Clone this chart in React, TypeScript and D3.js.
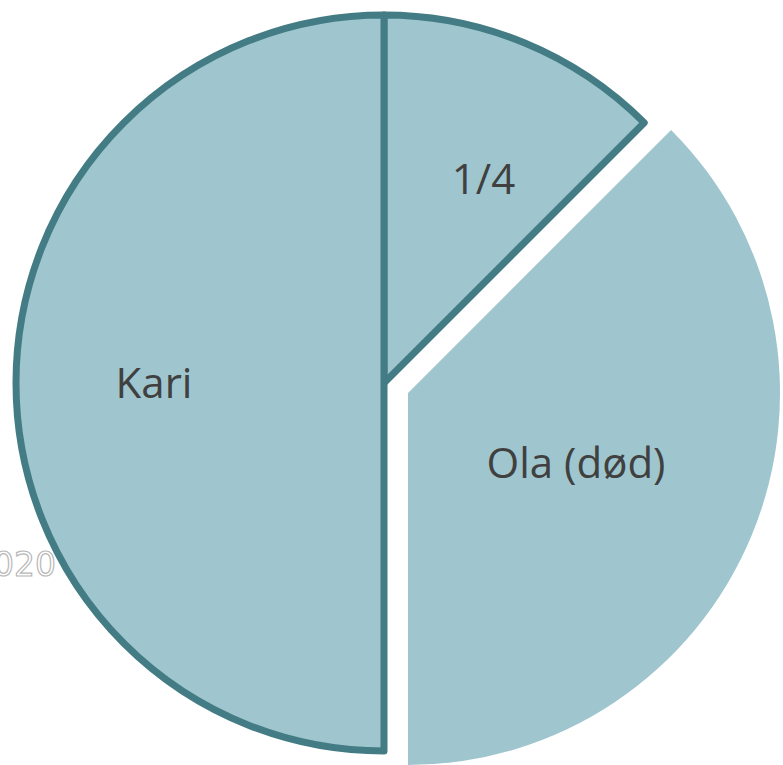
import { useEffect, useRef } from 'react'
import * as d3 from 'd3'

// pie slices, clockwise from 12 o'clock
const labels = ['1/4', 'Ola (død)', 'Kari']
const shares = [12.5, 37.5, 50]
const exploded = [false, true, false]
const watermark = '2020'

const width = 783
const height = 765

function PieChart() {
  const ref = useRef<SVGSVGElement>(null)

  useEffect(() => {
    const svg = d3.select(ref.current)
    svg.selectAll('*').remove()

    const cx = 384,
      cy = 383,
      r = 368,
      pull = 26

    // faint outlined watermark, mostly cut off at the left edge
    svg
      .append('text')
      .attr('x', 56)
      .attr('y', 576)
      .attr('text-anchor', 'end')
      .attr('font-family', 'DejaVu Sans')
      .attr('font-size', 33)
      .attr('fill', '#ffffff')
      .attr('stroke', '#b8b8b8')
      .attr('stroke-width', 1.2)
      .text(watermark)

    const data = labels.map((label, i) => ({ label, value: shares[i], exploded: exploded[i] }))

    const pie = d3
      .pie<{ label: string; value: number; exploded: boolean }>()
      .sort(null)
      .value((d) => d.value)

    const arc = d3.arc<d3.PieArcDatum<any>>().innerRadius(0)
    // label distance as a share of the radius, plus a small sideways nudge
    const labelFactor = [0.6, 0.5, 0.625]
    const labelNudge = [15, -2, 0]

    const g = svg.append('g').attr('transform', 'translate(' + cx + ',' + cy + ')')

    const slices = g
      .selectAll('g.slice')
      .data(pie(data))
      .enter()
      .append('g')
      .attr('class', 'slice')
      .attr('transform', (d) => {
        if (!d.data.exploded) return null
        const mid = (d.startAngle + d.endAngle) / 2
        return 'translate(' + pull * Math.sin(mid) + ',' + -pull * Math.cos(mid) + ')'
      })

    slices
      .append('path')
      .attr('d', (d) => arc.outerRadius(d.data.exploded ? r + 4 : r)(d))
      .attr('fill', '#9fc6ce')
      .attr('stroke', (d) => (d.data.exploded ? 'none' : '#437c84'))
      .attr('stroke-width', 7)
      .attr('stroke-linejoin', 'round')

    slices
      .append('text')
      .attr('transform', (d, i) => {
        const lr = r * labelFactor[i]
        const mid = (d.startAngle + d.endAngle) / 2
        return 'translate(' + (lr * Math.sin(mid) + labelNudge[i]) + ',' + -lr * Math.cos(mid) + ')'
      })
      .attr('text-anchor', 'middle')
      .attr('dy', '0.36em')
      .attr('font-family', 'Open Sans')
      .attr('font-size', 42)
      .attr('fill', '#404040')
      .text((d) => d.data.label)
  }, [])

  return (
    <svg
      ref={ref}
      width={width}
      height={height}
      style={{ position: 'absolute', left: 0, top: 0, background: '#fff' }}
    />
  )
}

export default function App() {
  return <PieChart />
}
